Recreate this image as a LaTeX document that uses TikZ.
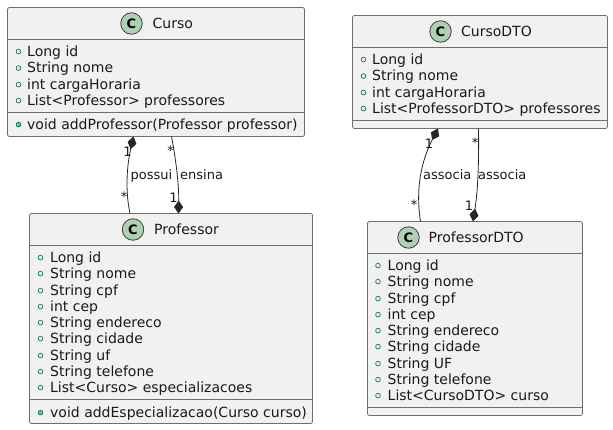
\documentclass[tikz,border=0pt]{standalone}
\usepackage{fontspec}
\setmainfont{DejaVu Sans}
\usetikzlibrary{arrows.meta}
\definecolor{boxfill}{HTML}{F1F1F1}
\definecolor{boxline}{HTML}{6E6E6E}
\definecolor{circfill}{HTML}{ADD1B2}
\definecolor{vis}{HTML}{038048}
\definecolor{visf}{HTML}{84BE84}
\tikzset{
  x=1pt,y=-1pt,
  sep/.style={draw=boxline,line width=.8pt},
  title/.style={font=\fontsize{14}{16}\selectfont,inner sep=0pt,text=black!90,anchor=base west},
  member/.style={font=\fontsize{14}{16}\selectfont,inner sep=0pt,text=black!90,anchor=base west},
  lab/.style={font=\fontsize{13}{15}\selectfont,inner sep=0pt,text=black!90},
  conn/.style={draw=black!85!white,line width=.8pt},
  compo/.style={-{Diamond[length=13pt,width=9pt,fill=black!85!white]}},
  compr/.style={{Diamond[length=13pt,width=9pt,fill=black!85!white]}-},
  spot/.style={circle,draw=black!75,line width=.8pt,fill=circfill,minimum size=21.5pt,inner sep=0pt,font=\fontsize{13}{15}\selectfont\bfseries}
}
\newcommand{\umlbox}[7]{% name x1 y1 x2 y2 headline divider
  \path[rounded corners=2pt,draw=boxline,fill=boxfill,line width=.8pt] (#2,#3) rectangle (#4,#5);
  \node[minimum width=#4pt-#2pt,minimum height=#5pt-#3pt,inner sep=0pt,anchor=north west] (#1) at (#2,#3) {};
  \draw[sep] (#2,#6) -- (#4,#6);
  \draw[sep] (#2,#7) -- (#4,#7);
}
\newcommand{\pub}[3]{% name x baseline
  \node[circle,draw=vis,line width=.7pt,minimum size=4.7pt,inner sep=0pt] (p#1) at (#2,#3-4.4) {};
}
\newcommand{\pubm}[3]{%
  \node[circle,draw=vis,fill=visf,line width=.7pt,minimum size=4.7pt,inner sep=0pt] (p#1) at (#2,#3-4.4) {};
}
\begin{document}
\begin{tikzpicture}
\useasboundingbox (0,0) rectangle (613,429);
% ---- Curso
\umlbox{curso}{7.5}{7.5}{304.5}{136.5}{39.5}{112.5}
\node[spot] (sc) at (131.5,23.5) {C};
\node[title] (tc) at (152.5,28) {Curso};
\foreach \n/\y/\t in {a/56/Long id,b/72.5/String nome,c/89/int cargaHoraria,d/105/List<Professor> professores}{
  \pub{c\n}{18.5}{\y}
  \node[member] (mc\n) at (27,\y) {\t};
}
\pubm{ce}{18.5}{129}
\node[member] (mce) at (27,129) {void addProfessor(Professor professor)};
% ---- CursoDTO
\umlbox{dto}{352.5}{15.5}{607.5}{128.5}{47.5}{120.5}
\node[spot] (sd) at (440.5,31.5) {C};
\node[title] (td) at (461,36) {CursoDTO};
\foreach \n/\y/\t in {a/64/Long id,b/80.5/String nome,c/97/int cargaHoraria,d/113/List<ProfessorDTO> professores}{
  \pub{d\n}{363.5}{\y}
  \node[member] (md\n) at (372,\y) {\t};
}
% ---- Professor
\umlbox{prof}{29.5}{213.5}{312.5}{423.5}{245.5}{399.5}
\node[spot] (sp) at (133,229.5) {C};
\node[title] (tp) at (154,234) {Professor};
\foreach \n/\y/\t in {a/262/Long id,b/278/String nome,c/295/String cpf,d/311/int cep,e/327/String endereco,f/343/String cidade,g/360/String uf,h/376/String telefone,i/392/List<Curso> especializacoes}{
  \pub{p\n}{40.5}{\y}
  \node[member] (mp\n) at (50,\y) {\t};
}
\pubm{pj}{40.5}{417}
\node[member] (mpj) at (50,417) {void addEspecializacao(Curso curso)};
% ---- ProfessorDTO
\umlbox{pdto}{367.5}{221.5}{582.5}{415.5}{253.5}{407.5}
\node[spot] (sq) at (408.5,237.5) {C};
\node[title] (tq) at (428.5,242) {ProfessorDTO};
\foreach \n/\y/\t in {a/270/Long id,b/286/String nome,c/303/String cpf,d/319/int cep,e/335/String endereco,f/351/String cidade,g/368/String UF,h/384/String telefone,i/400/List<CursoDTO> curso}{
  \pub{q\n}{378}{\y}
  \node[member] (mq\n) at (387.5,\y) {\t};
}
% ---- connectors
\coordinate (c1) at (133.5,136.5);
\coordinate (p1) at (130,213.5);
\coordinate (c2) at (171.5,136.5);
\coordinate (p2) at (178.5,213.5);
\coordinate (d1) at (438,128.5);
\coordinate (q1) at (420.5,221.5);
\coordinate (d2) at (478.5,128.5);
\coordinate (q2) at (473,221.5);
\draw[conn,compr] (c1) .. controls (127,165) and (125,190) .. (p1);
\draw[conn,compo] (c2) .. controls (176,160) and (179,185) .. (p2);
\draw[conn,compr] (d1) .. controls (426,152) and (414,180) .. (q1);
\draw[conn,compo] (d2) .. controls (479,160) and (478,190) .. (q2);
% ---- labels
\node[lab,anchor=base west] (l1) at (130.5,179.5) {possui};
\node[lab,anchor=base west] (l2) at (180,179.5) {ensina};
\node[lab,anchor=base west] (l3) at (423,179.5) {associa};
\node[lab,anchor=base west] (l4) at (478,179.5) {associa};
\node[lab] (n1) at (127.5,152) {1};
\node[lab] (n2) at (124,197) {*};
\node[lab] (n3) at (170.5,151) {*};
\node[lab] (n4) at (173.5,198) {1};
\node[lab] (n5) at (429,144) {1};
\node[lab] (n6) at (414,205) {*};
\node[lab] (n7) at (475,143) {*};
\node[lab] (n8) at (469,206) {1};
\end{tikzpicture}
\end{document}
